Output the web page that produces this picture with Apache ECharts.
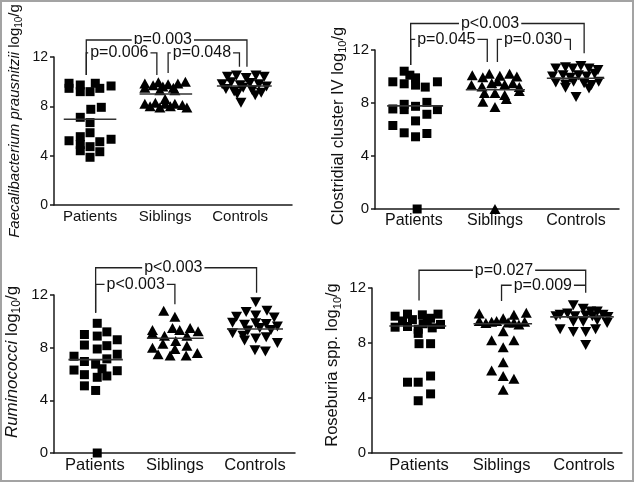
<!DOCTYPE html>
<html><head><meta charset="utf-8">
<script src="https://cdn.jsdelivr.net/npm/echarts@6/dist/echarts.min.js"></script>
<style>html,body{margin:0;padding:0;background:#fff}#c{width:634px;height:482px}</style>
</head><body><div id="c"></div>
<script>
const categories = ['Patients', 'Siblings', 'Controls'];
const yTicks = [0, 4, 8, 12];

// Each point: [horizontal jitter (category widths), log10/g value]
const faecPatients = [[-0.28,9.87],[-0.28,9.46],[-0.13,9.73],[-0.13,9.19],[0,9.19],[0.07,9.87],[0.13,9.46],[0.28,9.65],[0.01,7.76],[0.15,7.92],[-0.13,7.11],[0,6.68],[0,5.86],[-0.13,5.54],[-0.28,5.21],[0.28,5.33],[0.13,5.13],[-0.13,4.9],[0,4.73],[-0.13,4.4],[0.13,4.32],[0,3.87]];
const faecSiblings = [[-0.27,9.85],[-0.27,9.5],[-0.16,9.7],[-0.09,9.95],[-0.03,9.6],[0.04,9.8],[0.11,9.5],[0.17,9.85],[0.27,10.0],[-0.07,9.3],[0.13,9.3],[-0.27,8.2],[-0.2,8.0],[-0.13,8.3],[-0.07,7.9],[0,8.2],[0.07,8.0],[0.13,8.2],[0.23,8.1],[0.29,7.9],[0,8.6]];
const faecControls = [[-0.17,10.4],[-0.05,10.5],[0.08,10.3],[0.21,10.5],[0.32,10.4],[-0.24,9.8],[-0.12,9.95],[0,9.7],[0.13,9.9],[0.25,9.8],[0.35,9.6],[-0.19,9.4],[-0.08,9.2],[0.04,9.5],[0.16,9.3],[0.28,9.1],[-0.04,9.0],[0.2,8.9],[0.01,8.3]];
const faecMedians = [6.95, 9.0, 9.65];
// [from, to, bracket level, left leg end, right leg end, label position]
const faecBrackets = [[-0.05,2.09,13.38,10.55,11.2,0.97],[-0.05,0.89,12.33,10.55,10.55,0.39],[1.04,1.99,12.33,10.7,11.2,1.49]];
const faecPLabels = ['p=0.003', 'p=0.006', 'p=0.048'];

const clostPatients = [[-0.26,9.6],[-0.12,10.4],[-0.12,9.45],[-0.05,10.1],[0.02,9.9],[0.02,9.35],[0.14,9.2],[0.29,9.6],[-0.26,7.55],[-0.12,7.9],[-0.12,7.5],[0.02,7.75],[0.16,8.05],[0.29,7.5],[0.16,7.15],[0.02,6.65],[-0.26,6.3],[-0.12,5.75],[0.02,5.45],[0.16,5.7],[0.04,0]];
const clostSiblings = [[-0.28,10.1],[-0.15,9.95],[-0.07,10.2],[0.06,10.05],[0.18,10.2],[0.27,10.0],[-0.29,9.35],[-0.16,9.25],[-0.04,9.5],[0.03,9.65],[0.12,9.4],[0.22,9.5],[0.3,9.2],[-0.13,8.75],[0,8.75],[0.12,8.6],[0.3,8.9],[-0.15,8.1],[0,7.7],[0.14,8.3],[0,0]];
const clostControls = [[-0.25,10.6],[-0.13,10.7],[-0.04,10.6],[0.06,10.8],[0.16,10.6],[0.27,10.5],[-0.29,10.0],[-0.16,10.1],[-0.07,9.9],[0.03,10.1],[0.13,10.0],[0.23,10.2],[-0.25,9.55],[-0.13,9.4],[-0.03,9.6],[0.1,9.5],[0.19,9.35],[0.28,9.6],[0.16,9.1],[-0.13,9.15],[0,8.45]];
const clostMedians = [7.78, 9.0, 9.87];
const clostBrackets = [[-0.04,2.1,14.0,10.87,11.75,0.94],[-0.04,0.905,12.8,10.87,11.1,0.4],[1.03,1.93,12.8,11.1,12.0,1.47]];
const clostPLabels = ['p<0.003', 'p=0.045', 'p=0.030'];

const rumPatients = [[0.03,9.85],[-0.13,9.0],[0.03,8.88],[0.15,9.2],[0.28,8.6],[-0.13,8.2],[0.03,7.9],[0.15,8.15],[0.28,7.5],[-0.26,7.35],[-0.13,6.95],[0.01,6.75],[0.15,7.15],[0.09,6.4],[0.28,6.25],[-0.26,6.3],[-0.13,5.95],[0.03,5.75],[0.15,5.85],[-0.13,5.1],[0.01,4.75],[0.03,0]];
const rumSiblings = [[-0.14,10.8],[0,10.35],[-0.28,9.35],[-0.28,9.1],[-0.03,9.5],[0.06,9.35],[0.19,9.5],[0.29,9.25],[-0.13,8.9],[0.15,8.9],[0.01,8.5],[-0.28,8.0],[-0.15,8.3],[0,7.9],[0.15,8.15],[0.28,7.6],[-0.21,7.5],[-0.06,7.4],[0.14,7.4]];
const rumControls = [[0.01,11.45],[-0.11,10.7],[0.15,10.8],[-0.23,10.35],[0.01,10.45],[0.24,10.3],[-0.28,9.9],[-0.13,9.75],[0.01,9.85],[0.14,9.8],[0.28,9.6],[-0.09,9.3],[0.06,9.5],[0.2,9.35],[-0.28,9.1],[-0.13,8.55],[0.01,8.7],[0.14,8.8],[0.28,8.35],[-0.15,8.9],[0,7.8],[0.13,7.7]];
const rumMedians = [7.09, 8.72, 9.42];
const rumBrackets = [[0.01,2.02,14.07,10.65,12.17,0.98],[0.01,1.0,12.81,10.65,11.29,0.51]];
const rumPLabels = ['p<0.003', 'p<0.003'];

const rosePatients = [[-0.29,9.95],[-0.29,9.15],[-0.14,10.1],[-0.14,9.2],[-0.2,9.6],[-0.08,9.7],[-0.01,9.0],[0.04,10.05],[0.05,9.4],[0.1,9.6],[0.14,9.8],[0.16,9.1],[0.23,10.1],[0.26,9.35],[-0.01,8.7],[0,7.95],[0.14,7.95],[-0.14,5.15],[-0.01,5.15],[0.14,5.6],[-0.01,3.8],[0.14,4.3]];
const roseSiblings = [[-0.27,10.15],[-0.27,9.6],[-0.12,9.55],[-0.06,9.6],[0.02,9.8],[0.08,9.5],[0.15,10.05],[0.15,9.5],[0.3,10.2],[0.28,9.55],[-0.19,9.45],[0.21,9.35],[0.02,8.85],[-0.12,8.2],[0.15,8.2],[0.02,7.7],[0.02,6.6],[-0.12,6.0],[0.02,5.6],[0.15,5.4],[0.02,4.6]];
const roseControls = [[-0.13,10.75],[-0.01,10.5],[-0.2,10.15],[-0.29,10.05],[0.08,10.3],[0.16,10.3],[0.23,10.05],[0.29,9.9],[-0.11,9.95],[0.02,10.0],[0.1,9.95],[-0.34,9.95],[-0.13,9.55],[-0.01,9.55],[0.16,9.65],[0.28,9.45],[-0.29,9.0],[-0.13,8.8],[0.02,8.8],[0.14,9.0],[0.02,7.85]];
const roseMedians = [9.24, 9.4, 9.9];
const roseBrackets = [[0,2.02,13.29,11.1,11.66,1.03],[1.0,2.02,12.2,11.05,12.2,1.5]];
const rosePLabels = ['p=0.027', 'p=0.009'];

const FONT = '"Liberation Sans", Arial, Helvetica, sans-serif';
const panels = [
  {groups:[faecPatients,faecSiblings,faecControls], med:faecMedians, br:faecBrackets, pl:faecPLabels,
   name:'{i|Faecalibacterium prausnitzii}{n| log}{s|10}{n|/g}',
   grid:{left:54,top:57,width:238,height:148}, xmin:-0.48, xmax:2.69, tick:14, cat:15, nameSize:15, pSize:16, nameGap:30, namePad:20},
  {groups:[clostPatients,clostSiblings,clostControls], med:clostMedians, br:clostBrackets, pl:clostPLabels,
   name:'{n|Clostridial cluster IV log}{s|10}{n|/g}',
   grid:{left:375,top:50,width:244,height:159}, xmin:-0.48, xmax:2.53, tick:15, cat:16, nameSize:16.5, pSize:16, nameGap:25, namePad:7},
  {groups:[rumPatients,rumSiblings,rumControls], med:rumMedians, br:rumBrackets, pl:rumPLabels,
   name:'{i|Ruminococci}{n| log}{s|10}{n|/g}',
   grid:{left:54,top:295,width:241,height:158}, xmin:-0.51, xmax:2.5, tick:15, cat:16.5, nameSize:17, pSize:16, nameGap:31, namePad:24},
  {groups:[rosePatients,roseSiblings,roseControls], med:roseMedians, br:roseBrackets, pl:rosePLabels,
   name:'{n|Roseburia spp. log}{s|10}{n|/g}',
   grid:{left:372,top:288,width:250,height:165}, xmin:-0.57, xmax:2.46, tick:15, cat:16.5, nameSize:16.5, pSize:16, nameGap:29, namePad:11}
];

const symbols = [
  {symbol:'rect', size:9, rotate:0},
  {symbol:'triangle', size:[11,10], rotate:0},
  {symbol:'triangle', size:[11,10], rotate:180}
];

const grids = [], xAxes = [], yAxes = [], series = [];
panels.forEach((p, pi) => {
  grids.push(Object.assign({containLabel:false}, p.grid));
  xAxes.push({
    type:'value', gridIndex:pi, min:p.xmin, max:p.xmax,
    splitLine:{show:false}, axisTick:{show:false},
    axisLine:{onZero:false, lineStyle:{color:'#1a1a1a', width:1.5}},
    axisLabel:{customValues:[0,1,2], formatter:(v)=>categories[Math.round(v)], color:'#111', fontSize:p.cat, fontFamily:FONT, margin:4}
  });
  yAxes.push({
    type:'value', gridIndex:pi, min:yTicks[0], max:yTicks[yTicks.length-1], interval:4,
    splitLine:{show:false},
    axisTick:{show:true, length:4, lineStyle:{color:'#1a1a1a', width:1.5}},
    axisLine:{show:true, onZero:false, lineStyle:{color:'#1a1a1a', width:1.5}},
    axisLabel:{color:'#111', fontSize:p.tick, fontFamily:FONT, margin:6},
    name:p.name, nameLocation:'middle', nameRotate:90, nameGap:p.nameGap,
    nameTextStyle:{
      padding:[0,0,0,p.namePad],
      rich:{
        i:{fontSize:p.nameSize, fontStyle:'italic', fontFamily:FONT, color:'#111', lineHeight:p.nameSize+4},
        n:{fontSize:p.nameSize, fontFamily:FONT, color:'#111', lineHeight:p.nameSize+4},
        s:{fontSize:Math.round(p.nameSize*0.68), fontFamily:FONT, color:'#111', lineHeight:p.nameSize*0.68, verticalAlign:'bottom'}
      }
    }
  });
  p.groups.forEach((g, gi) => {
    series.push({
      type:'scatter', xAxisIndex:pi, yAxisIndex:pi,
      symbol:symbols[gi].symbol, symbolSize:symbols[gi].size, symbolRotate:symbols[gi].rotate,
      itemStyle:{color:'#000', opacity:1}, clip:false, silent:true,
      data:g.map(([j, v]) => [gi + j, v])
    });
  });
  // median lines spanning each group's scatter
  const medData = p.groups.map((g, gi) => {
    const js = g.map(d => d[0]);
    return [gi + Math.min(...js) - 0.07, gi + Math.max(...js) + 0.07, p.med[gi]];
  });
  series.push({
    type:'custom', xAxisIndex:pi, yAxisIndex:pi, clip:false, silent:true, z:3,
    data:medData,
    renderItem:(params, api) => {
      const a = api.coord([api.value(0), api.value(2)]);
      const b = api.coord([api.value(1), api.value(2)]);
      return {type:'line', shape:{x1:a[0], y1:a[1], x2:b[0], y2:b[1]}, style:{stroke:'#333', lineWidth:1.6}};
    }
  });
  series.push({
    type:'custom', xAxisIndex:pi, yAxisIndex:pi, clip:false, silent:true, z:4,
    data:p.br,
    renderItem:(params, api) => {
      const x1 = api.value(0), x2 = api.value(1), yt = api.value(2), y1 = api.value(3), y2 = api.value(4), lx = api.value(5);
      const pts = [api.coord([x1, y1]), api.coord([x1, yt]), api.coord([x2, yt])];
      if (y2 < yt) pts.push(api.coord([x2, y2]));
      const t = api.coord([lx, yt]);
      return {type:'group', children:[
        {type:'polyline', shape:{points:pts}, style:{stroke:'#222', lineWidth:1.3, fill:'none'}},
        {type:'text', x:t[0], y:t[1], z2:10, style:{text:p.pl[params.dataIndex], fill:'#111', font:p.pSize + 'px ' + FONT, align:'center', verticalAlign:'middle', backgroundColor:'#fff', padding:[1,2]}}
      ]};
    }
  });
});

const chart = echarts.init(document.getElementById('c'), null, {renderer:'canvas'});
chart.setOption({
  animation:false,
  backgroundColor:'#fff',
  textStyle:{fontFamily:FONT},
  grid:grids, xAxis:xAxes, yAxis:yAxes, series:series,
  graphic:[{type:'rect', shape:{x:1, y:1, width:632, height:480}, style:{fill:'none', stroke:'#a3a3a3', lineWidth:2}, silent:true, z:100}]
});
</script></body></html>
